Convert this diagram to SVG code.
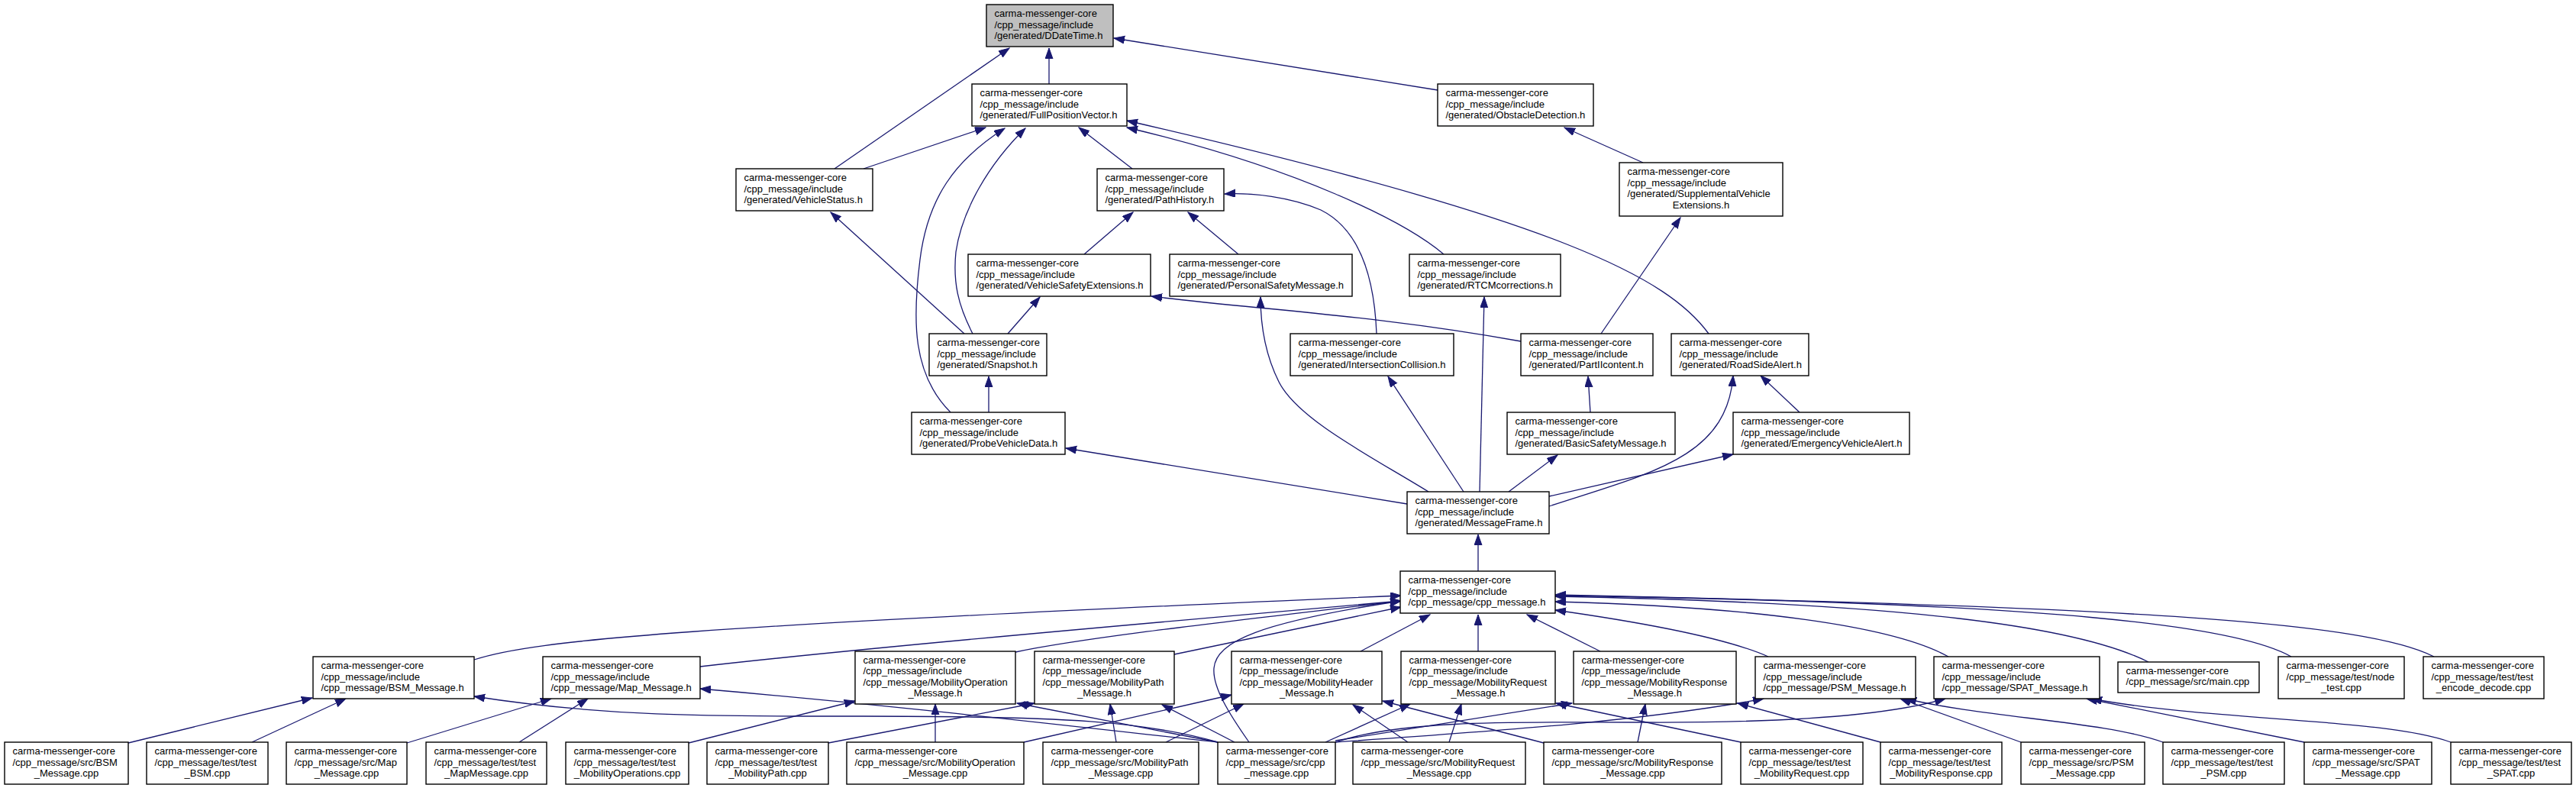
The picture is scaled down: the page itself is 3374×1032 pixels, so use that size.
<svg xmlns="http://www.w3.org/2000/svg" width="3374" height="1032" viewBox="0 0 3374 1032">
<defs>
<style>
.n rect{fill:#fff;stroke:#000;stroke-width:1.4}
.n text{font-family:"Liberation Sans",Arial,sans-serif;font-size:13px;fill:#000}
.n text.c{text-anchor:middle}
.e path{fill:none;stroke:#191970;stroke-width:1.3;marker-end:url(#ah)}
</style>
<marker id="ah" markerUnits="userSpaceOnUse" markerWidth="15" markerHeight="11" refX="14" refY="5" orient="auto">
<path d="M0,0 L14,5 L0,10 z" fill="#191970" stroke="#191970" stroke-width="1"/>
</marker>
</defs>
<rect width="3374" height="1032" fill="#fff"/>
<g id="edges" class="e">
<path d="M1093,221 L1322,63"/>
<path d="M1374,110 L1374,63"/>
<path d="M1883,118 L1459,50"/>
<path d="M1131,221 L1291,167"/>
<path d="M1245,540 C1195,490 1195,420 1205,340 C1215,260 1250,210 1316,168"/>
<path d="M1274,437 C1255,400 1248,370 1252,330 C1260,275 1295,215 1343,168"/>
<path d="M1483,221 L1413,167"/>
<path d="M1891,333 C1840,290 1700,220 1476,167"/>
<path d="M2238,437 C2185,365 2050,290 1476,158"/>
<path d="M1622,333 L1556,278"/>
<path d="M1420,333 L1484,278"/>
<path d="M1803,437 C1800,360 1780,300 1730,275 C1690,258 1640,252 1604,254"/>
<path d="M2152,213 L2049,167"/>
<path d="M2097,437 L2201,285"/>
<path d="M1263,437 L1088,278"/>
<path d="M1320,437 L1362,389"/>
<path d="M1992,447 C1800,412 1640,405 1508,388"/>
<path d="M1295,540 L1295,493"/>
<path d="M2083,540 L2080,493"/>
<path d="M2357,540 L2306,492"/>
<path d="M1843,660 L1396,587"/>
<path d="M1871,644 C1800,600 1700,550 1675,500 C1655,460 1651,420 1651,389"/>
<path d="M1917,644 L1818,493"/>
<path d="M1938,644 L1944,389"/>
<path d="M1976,644 L2040,596"/>
<path d="M2029,650 L2270,595"/>
<path d="M2029,663 C2160,620 2262,600 2270,492"/>
<path d="M1936,748 L1936,700"/>
<path d="M621,864 C700,838 900,820 1835,780"/>
<path d="M917,873 C1100,852 1400,825 1835,787"/>
<path d="M1330,854 C1420,835 1600,815 1835,787"/>
<path d="M1538,857 L1835,795"/>
<path d="M1636,972 C1610,935 1588,900 1590,875 C1593,840 1650,815 1835,787"/>
<path d="M1782,853 L1873,805"/>
<path d="M1936,853 L1936,805"/>
<path d="M2096,853 L2000,805"/>
<path d="M2316,860 C2260,835 2150,815 2037,799"/>
<path d="M2552,860 C2480,820 2300,795 2037,788"/>
<path d="M2814,867 C2720,820 2500,790 2037,781"/>
<path d="M3001,860 C2930,820 2700,790 2037,780"/>
<path d="M3188,860 C3100,815 2800,795 2037,779"/>
<path d="M168,973 L409,914"/>
<path d="M330,972 L453,915"/>
<path d="M533,973 L722,915"/>
<path d="M680,972 L770,915"/>
<path d="M902,973 L1120,918"/>
<path d="M1085,973 L1355,921"/>
<path d="M1595,972 C1500,945 1400,938 1130,938 C950,938 800,940 621,912"/>
<path d="M1595,972 C1350,945 1150,922 917,902"/>
<path d="M1595,972 L1332,921"/>
<path d="M1617,972 L1522,923"/>
<path d="M1225,972 L1225,922"/>
<path d="M1341,972 L1613,910"/>
<path d="M1462,972 L1454,922"/>
<path d="M1527,972 L1629,922"/>
<path d="M1736,972 L1847,922"/>
<path d="M1749,970 L2059,921"/>
<path d="M1749,972 C1950,958 2150,945 2310,915"/>
<path d="M1749,972 C1830,945 1950,945 2150,946 C2350,947 2480,935 2548,915"/>
<path d="M1844,972 L1772,923"/>
<path d="M1898,972 L1914,922"/>
<path d="M2022,973 L1811,918"/>
<path d="M2145,972 L2155,922"/>
<path d="M2280,972 L2038,921"/>
<path d="M2463,972 L2276,921"/>
<path d="M2647,972 L2489,915"/>
<path d="M2833,972 C2760,945 2600,940 2496,915"/>
<path d="M3018,972 L2733,915"/>
<path d="M3210,972 C3120,940 2900,945 2739,915"/>
</g>

<g id="n_ddatetime" class="n"><rect x="1292" y="6" width="166" height="55" style="fill:#bfbfbf"/><text x="1302.5" y="22"><tspan>carma-messenger-core</tspan><tspan x="1302.5" dy="14.5">/cpp_message/include</tspan><tspan x="1302.5" dy="14.5">/generated/DDateTime.h</tspan></text></g>
<g id="n_fullpositionvector" class="n"><rect x="1273" y="110" width="203" height="55"/><text x="1283.5" y="126"><tspan>carma-messenger-core</tspan><tspan x="1283.5" dy="14.5">/cpp_message/include</tspan><tspan x="1283.5" dy="14.5">/generated/FullPositionVector.h</tspan></text></g>
<g id="n_obstacledetection" class="n"><rect x="1883" y="110" width="204" height="55"/><text x="1893.5" y="126"><tspan>carma-messenger-core</tspan><tspan x="1893.5" dy="14.5">/cpp_message/include</tspan><tspan x="1893.5" dy="14.5">/generated/ObstacleDetection.h</tspan></text></g>
<g id="n_vehiclestatus" class="n"><rect x="964" y="221" width="179" height="55"/><text x="974.5" y="237"><tspan>carma-messenger-core</tspan><tspan x="974.5" dy="14.5">/cpp_message/include</tspan><tspan x="974.5" dy="14.5">/generated/VehicleStatus.h</tspan></text></g>
<g id="n_pathhistory" class="n"><rect x="1437" y="221" width="166" height="55"/><text x="1447.5" y="237"><tspan>carma-messenger-core</tspan><tspan x="1447.5" dy="14.5">/cpp_message/include</tspan><tspan x="1447.5" dy="14.5">/generated/PathHistory.h</tspan></text></g>
<g id="n_supplementalvehicleextensions" class="n"><rect x="2121" y="213" width="214" height="70"/><text x="2131.5" y="229.25"><tspan>carma-messenger-core</tspan><tspan x="2131.5" dy="14.5">/cpp_message/include</tspan><tspan x="2131.5" dy="14.5">/generated/SupplementalVehicle</tspan></text><text class="c" x="2228" y="272.75">Extensions.h</text></g>
<g id="n_vehiclesafetyextensions" class="n"><rect x="1268" y="333" width="239" height="55"/><text x="1278.5" y="349"><tspan>carma-messenger-core</tspan><tspan x="1278.5" dy="14.5">/cpp_message/include</tspan><tspan x="1278.5" dy="14.5">/generated/VehicleSafetyExtensions.h</tspan></text></g>
<g id="n_personalsafetymessage" class="n"><rect x="1532" y="333" width="239" height="55"/><text x="1542.5" y="349"><tspan>carma-messenger-core</tspan><tspan x="1542.5" dy="14.5">/cpp_message/include</tspan><tspan x="1542.5" dy="14.5">/generated/PersonalSafetyMessage.h</tspan></text></g>
<g id="n_rtcmcorrections" class="n"><rect x="1846" y="333" width="198" height="55"/><text x="1856.5" y="349"><tspan>carma-messenger-core</tspan><tspan x="1856.5" dy="14.5">/cpp_message/include</tspan><tspan x="1856.5" dy="14.5">/generated/RTCMcorrections.h</tspan></text></g>
<g id="n_snapshot" class="n"><rect x="1217" y="437" width="154" height="55"/><text x="1227.5" y="453"><tspan>carma-messenger-core</tspan><tspan x="1227.5" dy="14.5">/cpp_message/include</tspan><tspan x="1227.5" dy="14.5">/generated/Snapshot.h</tspan></text></g>
<g id="n_intersectioncollision" class="n"><rect x="1690" y="437" width="214" height="55"/><text x="1700.5" y="453"><tspan>carma-messenger-core</tspan><tspan x="1700.5" dy="14.5">/cpp_message/include</tspan><tspan x="1700.5" dy="14.5">/generated/IntersectionCollision.h</tspan></text></g>
<g id="n_partiicontent" class="n"><rect x="1992" y="437" width="173" height="55"/><text x="2002.5" y="453"><tspan>carma-messenger-core</tspan><tspan x="2002.5" dy="14.5">/cpp_message/include</tspan><tspan x="2002.5" dy="14.5">/generated/PartIIcontent.h</tspan></text></g>
<g id="n_roadsidealert" class="n"><rect x="2189" y="437" width="180" height="55"/><text x="2199.5" y="453"><tspan>carma-messenger-core</tspan><tspan x="2199.5" dy="14.5">/cpp_message/include</tspan><tspan x="2199.5" dy="14.5">/generated/RoadSideAlert.h</tspan></text></g>
<g id="n_probevehicledata" class="n"><rect x="1194" y="540" width="201" height="55"/><text x="1204.5" y="556"><tspan>carma-messenger-core</tspan><tspan x="1204.5" dy="14.5">/cpp_message/include</tspan><tspan x="1204.5" dy="14.5">/generated/ProbeVehicleData.h</tspan></text></g>
<g id="n_basicsafetymessage" class="n"><rect x="1974" y="540" width="220" height="55"/><text x="1984.5" y="556"><tspan>carma-messenger-core</tspan><tspan x="1984.5" dy="14.5">/cpp_message/include</tspan><tspan x="1984.5" dy="14.5">/generated/BasicSafetyMessage.h</tspan></text></g>
<g id="n_emergencyvehiclealert" class="n"><rect x="2270" y="540" width="231" height="55"/><text x="2280.5" y="556"><tspan>carma-messenger-core</tspan><tspan x="2280.5" dy="14.5">/cpp_message/include</tspan><tspan x="2280.5" dy="14.5">/generated/EmergencyVehicleAlert.h</tspan></text></g>
<g id="n_messageframe" class="n"><rect x="1843" y="644" width="186" height="55"/><text x="1853.5" y="660"><tspan>carma-messenger-core</tspan><tspan x="1853.5" dy="14.5">/cpp_message/include</tspan><tspan x="1853.5" dy="14.5">/generated/MessageFrame.h</tspan></text></g>
<g id="n_cpp_message_h" class="n"><rect x="1834" y="748" width="203" height="55"/><text x="1844.5" y="764"><tspan>carma-messenger-core</tspan><tspan x="1844.5" dy="14.5">/cpp_message/include</tspan><tspan x="1844.5" dy="14.5">/cpp_message/cpp_message.h</tspan></text></g>

<g id="n_bsm_message_h" class="n"><rect x="410" y="860" width="211" height="55"/><text x="420.5" y="876"><tspan>carma-messenger-core</tspan><tspan x="420.5" dy="14.5">/cpp_message/include</tspan><tspan x="420.5" dy="14.5">/cpp_message/BSM_Message.h</tspan></text></g>
<g id="n_map_message_h" class="n"><rect x="711" y="860" width="206" height="55"/><text x="721.5" y="876"><tspan>carma-messenger-core</tspan><tspan x="721.5" dy="14.5">/cpp_message/include</tspan><tspan x="721.5" dy="14.5">/cpp_message/Map_Message.h</tspan></text></g>
<g id="n_mobilityoperation_message_h" class="n"><rect x="1120" y="853" width="210" height="69"/><text x="1130.5" y="868.75"><tspan>carma-messenger-core</tspan><tspan x="1130.5" dy="14.5">/cpp_message/include</tspan><tspan x="1130.5" dy="14.5">/cpp_message/MobilityOperation</tspan></text><text class="c" x="1225" y="912.25">_Message.h</text></g>
<g id="n_mobilitypath_message_h" class="n"><rect x="1355" y="853" width="183" height="69"/><text x="1365.5" y="868.75"><tspan>carma-messenger-core</tspan><tspan x="1365.5" dy="14.5">/cpp_message/include</tspan><tspan x="1365.5" dy="14.5">/cpp_message/MobilityPath</tspan></text><text class="c" x="1446.5" y="912.25">_Message.h</text></g>
<g id="n_mobilityheader_message_h" class="n"><rect x="1613" y="853" width="197" height="69"/><text x="1623.5" y="868.75"><tspan>carma-messenger-core</tspan><tspan x="1623.5" dy="14.5">/cpp_message/include</tspan><tspan x="1623.5" dy="14.5">/cpp_message/MobilityHeader</tspan></text><text class="c" x="1711.5" y="912.25">_Message.h</text></g>
<g id="n_mobilityrequest_message_h" class="n"><rect x="1835" y="853" width="202" height="69"/><text x="1845.5" y="868.75"><tspan>carma-messenger-core</tspan><tspan x="1845.5" dy="14.5">/cpp_message/include</tspan><tspan x="1845.5" dy="14.5">/cpp_message/MobilityRequest</tspan></text><text class="c" x="1936" y="912.25">_Message.h</text></g>
<g id="n_mobilityresponse_message_h" class="n"><rect x="2061" y="853" width="213" height="69"/><text x="2071.5" y="868.75"><tspan>carma-messenger-core</tspan><tspan x="2071.5" dy="14.5">/cpp_message/include</tspan><tspan x="2071.5" dy="14.5">/cpp_message/MobilityResponse</tspan></text><text class="c" x="2167.5" y="912.25">_Message.h</text></g>
<g id="n_psm_message_h" class="n"><rect x="2299" y="860" width="210" height="55"/><text x="2309.5" y="876"><tspan>carma-messenger-core</tspan><tspan x="2309.5" dy="14.5">/cpp_message/include</tspan><tspan x="2309.5" dy="14.5">/cpp_message/PSM_Message.h</tspan></text></g>
<g id="n_spat_message_h" class="n"><rect x="2533" y="860" width="217" height="55"/><text x="2543.5" y="876"><tspan>carma-messenger-core</tspan><tspan x="2543.5" dy="14.5">/cpp_message/include</tspan><tspan x="2543.5" dy="14.5">/cpp_message/SPAT_Message.h</tspan></text></g>
<g id="n_main_cpp" class="n"><rect x="2774" y="867" width="185" height="40"/><text x="2784.5" y="882.75"><tspan>carma-messenger-core</tspan><tspan x="2784.5" dy="14.5">/cpp_message/src/main.cpp</tspan></text></g>
<g id="n_node_test_cpp" class="n"><rect x="2984" y="860" width="165" height="55"/><text x="2994.5" y="876"><tspan>carma-messenger-core</tspan><tspan x="2994.5" dy="14.5">/cpp_message/test/node</tspan></text><text class="c" x="3066.5" y="905">_test.cpp</text></g>
<g id="n_test_encode_decode_cpp" class="n"><rect x="3174" y="860" width="158" height="55"/><text x="3184.5" y="876"><tspan>carma-messenger-core</tspan><tspan x="3184.5" dy="14.5">/cpp_message/test/test</tspan></text><text class="c" x="3253" y="905">_encode_decode.cpp</text></g>

<g id="n_src_bsm_message_cpp" class="n"><rect x="6" y="972" width="162" height="55"/><text x="16.5" y="988"><tspan>carma-messenger-core</tspan><tspan x="16.5" dy="14.5">/cpp_message/src/BSM</tspan></text><text class="c" x="87" y="1017">_Message.cpp</text></g>
<g id="n_test_bsm_cpp" class="n"><rect x="192" y="972" width="159" height="55"/><text x="202.5" y="988"><tspan>carma-messenger-core</tspan><tspan x="202.5" dy="14.5">/cpp_message/test/test</tspan></text><text class="c" x="271.5" y="1017">_BSM.cpp</text></g>
<g id="n_src_map_message_cpp" class="n"><rect x="375" y="972" width="158" height="55"/><text x="385.5" y="988"><tspan>carma-messenger-core</tspan><tspan x="385.5" dy="14.5">/cpp_message/src/Map</tspan></text><text class="c" x="454" y="1017">_Message.cpp</text></g>
<g id="n_test_mapmessage_cpp" class="n"><rect x="558" y="972" width="158" height="55"/><text x="568.5" y="988"><tspan>carma-messenger-core</tspan><tspan x="568.5" dy="14.5">/cpp_message/test/test</tspan></text><text class="c" x="637" y="1017">_MapMessage.cpp</text></g>
<g id="n_test_mobilityoperations_cpp" class="n"><rect x="741" y="972" width="161" height="55"/><text x="751.5" y="988"><tspan>carma-messenger-core</tspan><tspan x="751.5" dy="14.5">/cpp_message/test/test</tspan></text><text class="c" x="821.5" y="1017">_MobilityOperations.cpp</text></g>
<g id="n_test_mobilitypath_cpp" class="n"><rect x="926" y="972" width="159" height="55"/><text x="936.5" y="988"><tspan>carma-messenger-core</tspan><tspan x="936.5" dy="14.5">/cpp_message/test/test</tspan></text><text class="c" x="1005.5" y="1017">_MobilityPath.cpp</text></g>
<g id="n_src_mobilityoperation_message_cpp" class="n"><rect x="1109" y="972" width="232" height="55"/><text x="1119.5" y="988"><tspan>carma-messenger-core</tspan><tspan x="1119.5" dy="14.5">/cpp_message/src/MobilityOperation</tspan></text><text class="c" x="1225" y="1017">_Message.cpp</text></g>
<g id="n_src_mobilitypath_message_cpp" class="n"><rect x="1366" y="972" width="204" height="55"/><text x="1376.5" y="988"><tspan>carma-messenger-core</tspan><tspan x="1376.5" dy="14.5">/cpp_message/src/MobilityPath</tspan></text><text class="c" x="1468" y="1017">_Message.cpp</text></g>
<g id="n_src_cpp_message_cpp" class="n"><rect x="1595" y="972" width="154" height="55"/><text x="1605.5" y="988"><tspan>carma-messenger-core</tspan><tspan x="1605.5" dy="14.5">/cpp_message/src/cpp</tspan></text><text class="c" x="1672" y="1017">_message.cpp</text></g>
<g id="n_src_mobilityrequest_message_cpp" class="n"><rect x="1772" y="972" width="226" height="55"/><text x="1782.5" y="988"><tspan>carma-messenger-core</tspan><tspan x="1782.5" dy="14.5">/cpp_message/src/MobilityRequest</tspan></text><text class="c" x="1885" y="1017">_Message.cpp</text></g>
<g id="n_src_mobilityresponse_message_cpp" class="n"><rect x="2022" y="972" width="233" height="55"/><text x="2032.5" y="988"><tspan>carma-messenger-core</tspan><tspan x="2032.5" dy="14.5">/cpp_message/src/MobilityResponse</tspan></text><text class="c" x="2138.5" y="1017">_Message.cpp</text></g>
<g id="n_test_mobilityrequest_cpp" class="n"><rect x="2280" y="972" width="160" height="55"/><text x="2290.5" y="988"><tspan>carma-messenger-core</tspan><tspan x="2290.5" dy="14.5">/cpp_message/test/test</tspan></text><text class="c" x="2360" y="1017">_MobilityRequest.cpp</text></g>
<g id="n_test_mobilityresponse_cpp" class="n"><rect x="2463" y="972" width="159" height="55"/><text x="2473.5" y="988"><tspan>carma-messenger-core</tspan><tspan x="2473.5" dy="14.5">/cpp_message/test/test</tspan></text><text class="c" x="2542.5" y="1017">_MobilityResponse.cpp</text></g>
<g id="n_src_psm_message_cpp" class="n"><rect x="2647" y="972" width="162" height="55"/><text x="2657.5" y="988"><tspan>carma-messenger-core</tspan><tspan x="2657.5" dy="14.5">/cpp_message/src/PSM</tspan></text><text class="c" x="2728" y="1017">_Message.cpp</text></g>
<g id="n_test_psm_cpp" class="n"><rect x="2833" y="972" width="159" height="55"/><text x="2843.5" y="988"><tspan>carma-messenger-core</tspan><tspan x="2843.5" dy="14.5">/cpp_message/test/test</tspan></text><text class="c" x="2912.5" y="1017">_PSM.cpp</text></g>
<g id="n_src_spat_message_cpp" class="n"><rect x="3018" y="972" width="167" height="55"/><text x="3028.5" y="988"><tspan>carma-messenger-core</tspan><tspan x="3028.5" dy="14.5">/cpp_message/src/SPAT</tspan></text><text class="c" x="3101.5" y="1017">_Message.cpp</text></g>
<g id="n_test_spat_cpp" class="n"><rect x="3210" y="972" width="158" height="55"/><text x="3220.5" y="988"><tspan>carma-messenger-core</tspan><tspan x="3220.5" dy="14.5">/cpp_message/test/test</tspan></text><text class="c" x="3289" y="1017">_SPAT.cpp</text></g>
</svg>
